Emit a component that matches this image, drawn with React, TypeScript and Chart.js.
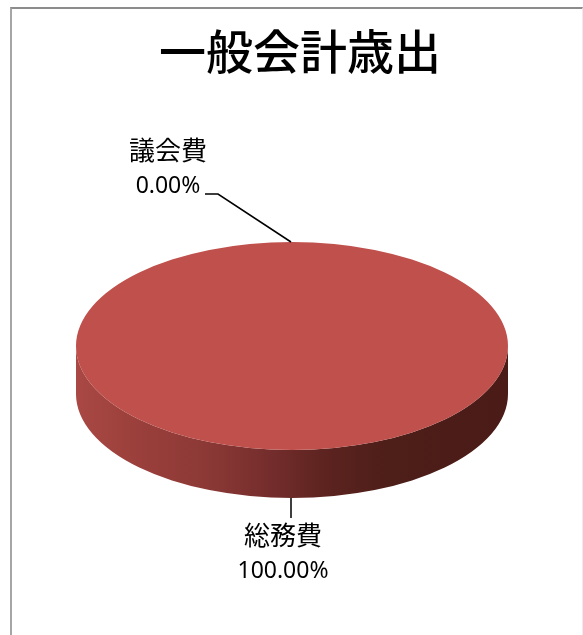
import React, { useEffect, useRef } from "react";
import { Chart, registerables } from "chart.js";

Chart.register(...registerables);

const chartTitle = "一般会計歳出";
const categories = ["議会費", "総務費"];
const shareValues = [0.0, 100.0];

const TOP_COLOR = "#BF504C";
const SQUASH = 104 / 216;
const DEPTH = 48;
const NAME_FONT = '26px "Noto Sans CJK JP", "Noto Sans", sans-serif';
const SHARE_FONT = '23px "Noto Sans", sans-serif';

const pie3d = {
  id: "pie3d",
  afterLayout(chart: any) {
    // the title sits slightly right of the pie centre in the reference
    const t = chart.titleBlock;
    if (t) {
      t.left += 8;
      t.right += 8;
    }
  },
  beforeDatasetsDraw(chart: any) {
    const arc = chart.getDatasetMeta(0).data[1];
    const { ctx } = chart;
    const cx = arc.x;
    const cy = arc.y;
    const rx = arc.outerRadius;
    const ry = rx * SQUASH;
    const g = ctx.createLinearGradient(cx - rx, 0, cx + rx, 0);
    g.addColorStop(0, "#A94844");
    g.addColorStop(0.15, "#9A3F3B");
    g.addColorStop(0.3, "#8C3936");
    g.addColorStop(0.45, "#742D2C");
    g.addColorStop(0.58, "#5C231F");
    g.addColorStop(0.72, "#4E1E19");
    g.addColorStop(1, "#4A1B17");
    ctx.save();
    ctx.beginPath();
    ctx.ellipse(cx, cy, rx, ry, 0, Math.PI, 0, true);
    ctx.lineTo(cx + rx, cy + DEPTH);
    ctx.ellipse(cx, cy + DEPTH, rx, ry, 0, 0, Math.PI, false);
    ctx.closePath();
    ctx.fillStyle = g;
    ctx.fill();
    ctx.restore();
    ctx.save();
    ctx.translate(cx, cy);
    ctx.scale(1, SQUASH);
    ctx.translate(-cx, -cy);
  },
  afterDatasetsDraw(chart: any) {
    const { ctx } = chart;
    ctx.restore();
    const arcs = chart.getDatasetMeta(0).data;
    const cx = arcs[0].x;
    const cy = arcs[0].y;
    const rx = arcs[0].outerRadius;
    const ry = rx * SQUASH;

    const topY = cy - ry;
    const bottomY = cy + ry + DEPTH;

    ctx.save();
    ctx.strokeStyle = "#000000";
    ctx.lineWidth = 1.5;
    ctx.beginPath();
    ctx.moveTo(cx - 1, topY);
    ctx.lineTo(cx - 74, topY - 48);
    ctx.lineTo(cx - 87, topY - 48);
    ctx.moveTo(cx - 1, bottomY);
    ctx.lineTo(cx - 1, bottomY + 20);
    ctx.stroke();

    ctx.fillStyle = "#000000";
    ctx.textAlign = "center";
    ctx.textBaseline = "middle";
    const text = (i: number) => `${shareValues[i].toFixed(2)}%`;
    ctx.font = NAME_FONT;
    ctx.fillText(categories[0], cx - 124, topY - 92);
    ctx.fillText(categories[1], cx - 9, bottomY + 37);
    ctx.font = SHARE_FONT;
    ctx.fillText(text(0), cx - 124, topY - 56);
    ctx.fillText(text(1), cx - 9, bottomY + 73);
    ctx.restore();
  },
};

export default function App() {
  const ref = useRef<HTMLCanvasElement>(null);
  useEffect(() => {
    const chart = new Chart(ref.current as HTMLCanvasElement, {
      type: "pie",
      data: {
        labels: categories,
        datasets: [
          {
            data: shareValues,
            backgroundColor: ["#4F81BD", TOP_COLOR],
            borderWidth: 0,
          },
        ],
      },
      options: {
        animation: false,
        responsive: false,
        devicePixelRatio: 1,
        layout: { padding: { top: 23, left: 76, right: 75, bottom: 73 } },
        plugins: {
          legend: { display: false },
          tooltip: { enabled: false },
          title: {
            display: true,
            text: chartTitle,
            color: "#000000",
            font: { family: '"Noto Sans CJK JP", sans-serif', size: 47, weight: "500", lineHeight: 1.2 },
            padding: { top: 0, bottom: 50.6 },
          },
        },
      },
      plugins: [pie3d],
    } as any);
    return () => chart.destroy();
  }, []);
  return (
    <div style={{ position: "fixed", left: 0, top: 0, width: 583, height: 635, overflow: "hidden", background: "#fff" }}>
      <canvas ref={ref} width={583} height={635} style={{ position: "absolute", left: 0, top: 0 }} />
      <div
        style={{
          position: "absolute",
          left: 10,
          top: 7,
          width: 570,
          height: 640,
          borderTop: "2px solid #8C8C8C",
          borderLeft: "2px solid #A6A6A6",
          borderRight: "1px solid #ECECEC",
          pointerEvents: "none",
        }}
      />
    </div>
  );
}
